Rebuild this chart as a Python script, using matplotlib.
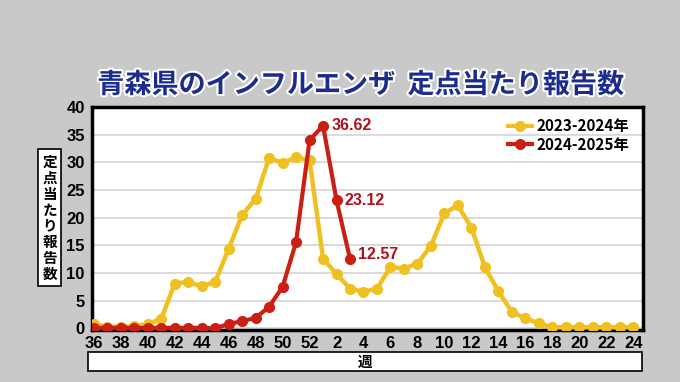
import matplotlib
matplotlib.use("Agg")
import matplotlib.pyplot as plt
import matplotlib.patheffects as pe
from matplotlib.lines import Line2D

plt.rcParams['font.family'] = ['Noto Sans CJK JP', 'DejaVu Sans']

# week numbers along the x axis (season starts week 36)
weeks = list(range(36, 53)) + list(range(1, 25))
tick_weeks = weeks[::2]

# 2023-2024 season
season_2023 = [0.8, 0.3, 0.3, 0.4, 0.8, 1.7, 8.1, 8.4, 7.6, 8.4, 14.4, 20.5, 23.4,
               30.8, 29.9, 30.9, 30.4,
               12.6, 9.8, 7.2, 6.6, 7.2, 11.1, 10.8, 11.7, 14.9, 20.8, 22.2, 18.2,
               11.1, 6.7, 3.0, 1.8, 0.9, 0.2, 0.2, 0.2, 0.2, 0.2, 0.2, 0.2]
# 2024-2025 season (up to week 3)
season_2024 = [0.1, 0.1, 0.1, 0.1, 0.1, 0.1, 0.1, 0.1, 0.1, 0.0, 0.8, 1.3, 1.9,
               3.9, 7.5, 15.6, 34.0, 36.62, 23.12, 12.57]
labelled = [36.62, 23.12, 12.57]

yellow = '#f0c020'
red = '#cc1f14'
navy = '#1b2c8c'
num_font = ['Liberation Sans', 'DejaVu Sans']

fig = plt.figure(figsize=(6.8, 3.82), dpi=100)
fig.patch.set_facecolor('#c9c9c9')
ax = fig.add_axes([0.135, 0.136, 0.811, 0.584])
ax.set_facecolor('white')

x1 = range(len(season_2023))
x2 = range(len(season_2024))
ax.plot(x1, season_2023, color=yellow, lw=3.2, marker='o', ms=7, zorder=3)
ax.plot(x2, season_2024, color=red, lw=3.0, marker='o', ms=7, zorder=4)

for v in labelled:
    i = season_2024.index(v)
    dy = 3 if v == 12.57 else 0
    ax.annotate(f'{v:.2f}', (i, v), xytext=(6, dy), textcoords='offset points',
                color='#b0101c', fontsize=11.5, fontweight='bold', family=num_font,
                va='center', ha='left', zorder=5)

ax.set_xlim(-0.15, len(weeks) - 1 + 0.75)
ax.set_ylim(-0.3, 40)
ax.set_yticks(range(0, 41, 5))
ax.set_xticks(list(range(0, len(weeks), 2)))
ax.set_xticklabels([str(w) for w in tick_weeks])
for lab in ax.get_xticklabels() + ax.get_yticklabels():
    lab.set_family(num_font)
    lab.set_fontweight('bold')
    lab.set_fontsize(12)
ax.tick_params(axis='y', length=0, pad=5)
ax.tick_params(axis='x', length=0, pad=4)
ax.grid(axis='y', color='#d4d4d4', lw=1.2)
ax.set_axisbelow(True)
for s in ax.spines.values():
    s.set_linewidth(2.5)
    s.set_color('black')

handles = [Line2D([], [], color=yellow, lw=3, marker='o', ms=7),
           Line2D([], [], color=red, lw=3, marker='o', ms=7)]
ax.legend(handles, ['2023-2024年', '2024-2025年'], loc='upper right',
          bbox_to_anchor=(1.0, 1.01), frameon=False, handlelength=1.6,
          handletextpad=0.3, labelspacing=0.15,
          prop={'size': 11, 'weight': 'bold'})

fig.text(0.531, 0.778, '青森県のインフルエンザ  定点当たり報告数', ha='center', va='center',
         fontsize=19.5, fontweight='bold', color=navy,
         path_effects=[pe.withStroke(linewidth=3, foreground='white')])

fig.text(0.073, 0.43, '\n'.join('定点当たり報告数'), ha='center', va='center',
         fontsize=10.5, fontweight='bold', linespacing=1.0,
         bbox=dict(boxstyle='square,pad=0.3', fc='white', ec='black', lw=1.2))

fig.patches.append(plt.Rectangle((88 / 680, 1 - 371 / 382), 554 / 680, 19 / 382,
                                 transform=fig.transFigure, fc='white', ec='black',
                                 lw=1.2))
fig.text(365 / 680, 1 - 362 / 382, '週', ha='center', va='center',
         fontsize=10.5, fontweight='bold')

fig.savefig('out.png', dpi=100, facecolor=fig.get_facecolor())
